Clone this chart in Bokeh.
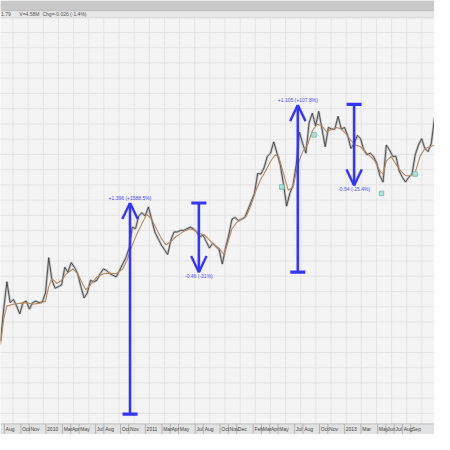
import numpy as np
from bokeh.plotting import figure
from bokeh.models import Range1d
from bokeh.core.properties import value
from bokeh.embed import file_html
from bokeh.resources import INLINE

# ---------------- data (months since Jan 2010, price) ----------------
month_ticks = [-5, -3, -2, 0, 2, 3, 4, 6, 7, 9, 10, 12, 14, 15, 16, 18, 19,
               21, 22, 23, 25, 26, 27, 28, 30, 31, 33, 34, 36, 38, 40, 41, 42, 43, 44]
month_labels = ["Aug", "Oct", "Nov", "2010", "Mar", "Apr", "May", "Jul", "Aug",
                "Oct", "Nov", "2011", "Mar", "Apr", "May", "Jul", "Aug", "Oct", "Nov",
                "Dec", "Feb", "Mar", "Apr", "May", "Jul", "Aug", "Oct", "Nov", "2013",
                "Mar", "May", "Jun", "Jul", "Aug", "Sep"]

close_start = -5.465      # first sample (months)
close_step = 0.3876       # sampling interval (months)
close = [0.574, 0.785, 0.964, 0.827, 0.848, 0.806, 0.753, 0.827, 0.837, 0.785,
         0.827, 0.837, 0.827, 0.831, 0.890, 1.122, 0.974, 0.922, 0.932, 0.943,
         1.059, 1.027, 1.090, 1.059, 1.017, 0.932, 0.858, 0.890, 0.974, 0.964,
         0.974, 1.017, 1.048, 1.038, 1.017, 1.006, 0.996, 1.038, 1.080, 1.122,
         1.185, 1.323, 1.312, 1.396, 1.417, 1.396, 1.455, 1.375, 1.291, 1.249,
         1.206, 1.175, 1.143, 1.238, 1.291, 1.291, 1.301, 1.301, 1.312, 1.323,
         1.312, 1.291, 1.259, 1.270, 1.228, 1.185, 1.217, 1.196, 1.175, 1.080,
         1.185, 1.270, 1.375, 1.386, 1.365, 1.375, 1.386, 1.439, 1.491, 1.544,
         1.675, 1.671, 1.713, 1.787, 1.808, 1.882, 1.808, 1.734, 1.607, 1.460,
         1.544, 1.597, 1.734, 1.945, 1.871, 1.808, 2.008, 2.071, 1.987, 2.082,
         1.966, 1.850, 1.977, 1.966, 1.966, 2.050, 1.966, 1.977, 1.924, 1.839,
         1.871, 1.924, 1.903, 1.829, 1.797, 1.808, 1.787, 1.744, 1.660, 1.618,
         1.861, 1.829, 1.787, 1.787, 1.692, 1.650, 1.618, 1.650, 1.671, 1.797,
         1.861, 1.903, 1.839, 1.818, 1.871, 2.040]

ma_t = [-5.465, -5.077, -4.690, -3.915, -3.139, -2.364, -1.589, -0.814, -0.039, 0.349,
        0.737, 1.318, 1.899, 2.481, 3.256, 3.837, 4.419, 4.806, 5.388, 6.163,
        6.938, 7.713, 8.488, 9.264, 9.845, 10.426, 11.008, 11.589, 12.171, 12.752,
        13.334, 13.915, 14.496, 15.078, 15.659, 16.241, 16.822, 17.403, 17.985, 18.566,
        19.147, 19.729, 20.310, 20.891, 21.473, 21.860, 22.442, 23.023, 23.605, 24.186,
        24.767, 25.349, 25.930, 26.512, 27.093, 27.674, 28.062, 28.450, 28.837, 29.225,
        29.806, 30.388, 30.969, 31.550, 32.132, 32.713, 33.295, 33.876, 34.457, 35.039,
        35.620, 36.202, 36.783, 37.364, 37.946, 38.527, 39.109, 39.690, 40.271, 40.659,
        41.046, 41.628, 42.209, 42.791, 43.372, 43.953, 44.535, 45.116, 45.698, 46.279,
        46.860]
ma_v = [0.552, 0.721, 0.806, 0.816, 0.822, 0.827, 0.816, 0.822, 0.837, 0.932,
        0.985, 0.953, 0.974, 1.017, 1.048, 1.017, 0.953, 0.911, 0.943, 0.996,
        1.017, 1.021, 1.017, 1.048, 1.112, 1.206, 1.280, 1.344, 1.407, 1.375,
        1.312, 1.249, 1.206, 1.228, 1.259, 1.280, 1.301, 1.312, 1.301, 1.280,
        1.270, 1.238, 1.206, 1.185, 1.143, 1.206, 1.312, 1.354, 1.375, 1.396,
        1.470, 1.565, 1.639, 1.692, 1.755, 1.797, 1.787, 1.713, 1.639, 1.565,
        1.586, 1.734, 1.818, 1.861, 1.955, 1.998, 1.987, 1.945, 1.966, 1.977,
        1.966, 1.934, 1.892, 1.861, 1.850, 1.818, 1.787, 1.755, 1.692, 1.671,
        1.755, 1.787, 1.734, 1.692, 1.660, 1.660, 1.681, 1.787, 1.839, 1.850,
        1.861]

alert_t = [28.45, 32.33, 40.47, 44.53]
alert_p = [1.586, 1.928, 1.544, 1.671]

arrow_t = [10.15, 18.45, 30.38, 37.17]
arrow_from = [0.095, 1.481, 1.027, 2.128]
arrow_to = [1.481, 1.027, 2.124, 1.596]
arrow_labels = ["+1.396 (+1588.5%)", "-0.46 (-31%)", "+1.105 (+107.8%)", "-0.54 (-25.4%)"]

header_texts = ["1.79", "V=4.58M", "Chg=-0.026 (-1.4%)"]

# ---------------- layout helpers (reference-pixel -> data) ----------------
PPM = 8.6      # px per month
PPU = 158.0    # px per price unit
def xm(px):
    return (px - 47) / PPM
def yp(py):
    return 1.025 + (282 - py) / PPU

W = H = 434
p = figure(width=W, height=H, output_backend="svg", toolbar_location=None,
           x_axis_type=None, y_axis_type=None,
           x_range=Range1d(xm(0), xm(450)), y_range=Range1d(yp(450), yp(0)),
           min_border=0, background_fill_color="#f4f4f4", border_fill_color="#f4f4f4",
           outline_line_color=None)
p.grid.visible = False

font = value("Liberation Sans")

# grid
hy = np.arange(0.0, 2.81, 0.1)
p.segment(x0=xm(0), x1=xm(450), y0=hy, y1=hy, line_color="#e3e3e3", line_width=1)
vx = np.arange(xm(13), xm(450), 15.7 / PPM)
p.segment(x0=vx, x1=vx, y0=yp(450), y1=yp(0), line_color="#e3e3e3", line_width=1)

# price
t_close = close_start + close_step * np.arange(len(close))
p.line(t_close, close, line_color="#8c8c8c", line_alpha=0.45, line_width=2.6)
p.line(t_close, close, line_color="#2b2b2b", line_width=0.75)
p.line(ma_t, ma_v, line_color="#b98a5e", line_width=1.1)

p.scatter(alert_t, alert_p, marker="square", size=4.5, fill_color="#aee4df",
          line_color="#74b3ae", line_width=0.8)

# arrows
blue = "#3535ff"
cap_hw = 7.8 / PPM
head_hw = 8.0 / PPM
head_h = 16.7 / PPU
at = np.array(arrow_t); af = np.array(arrow_from); ato = np.array(arrow_to)
d = np.sign(ato - af)
p.segment(x0=at, x1=at, y0=af, y1=ato, line_color=blue, line_width=2.6)
p.segment(x0=at - cap_hw, x1=at + cap_hw, y0=af, y1=af, line_color=blue, line_width=3.2)
p.segment(x0=at, x1=at - head_hw, y0=ato, y1=ato - d * head_h, line_color=blue, line_width=2.4)
p.segment(x0=at, x1=at + head_hw, y0=ato, y1=ato - d * head_h, line_color=blue, line_width=2.4)
for t, y, s, dd in zip(at, ato, arrow_labels, d):
    if dd > 0:
        p.text(x=[t], y=[y + 2 / PPU], text=[s], text_align="center", text_baseline="bottom",
               text_font=font, text_font_size="5px", text_color="#4a4aff")
    else:
        p.text(x=[t], y=[y - 1 / PPU], text=[s], text_align="center", text_baseline="top",
               text_font=font, text_font_size="5px", text_color="#4a4aff")

# header bands
p.quad(left=xm(0), right=xm(450), bottom=yp(10.5), top=yp(0), fill_color="#c9c9c9", line_color=None)
p.quad(left=xm(0), right=xm(450), bottom=yp(18), top=yp(10.5), fill_color="#e6e6e6", line_color=None)
p.segment(x0=xm(0), x1=xm(450), y0=yp(10.5), y1=yp(10.5), line_color="#b4b4b4", line_width=0.8)
p.segment(x0=xm(0), x1=xm(450), y0=yp(18), y1=yp(18), line_color="#d2d2d2", line_width=0.8)
p.text(x=[xm(0.5), xm(19.5), xm(43.5)], y=[yp(14.3)] * 3, text=header_texts,
       text_align="left", text_baseline="middle", text_font=font,
       text_font_size="5px", text_color="#555555")

# bottom time axis band
p.quad(left=xm(0), right=xm(450), bottom=yp(450), top=yp(439), fill_color="#e2e2e2", line_color=None)
p.segment(x0=xm(0), x1=xm(450), y0=yp(439), y1=yp(439), line_color="#b0b0b0", line_width=0.8)
mt = np.array(month_ticks, dtype=float)
p.segment(x0=mt, x1=mt, y0=yp(450), y1=yp(439), line_color="#a8a8a8", line_width=0.8)
p.text(x=mt + 1.3 / PPM, y=[yp(444.5)] * len(mt), text=month_labels,
       text_align="left", text_baseline="middle", text_font=font,
       text_font_size="5px", text_color="#444444")

open("out.html", "w").write(file_html(p, INLINE))
